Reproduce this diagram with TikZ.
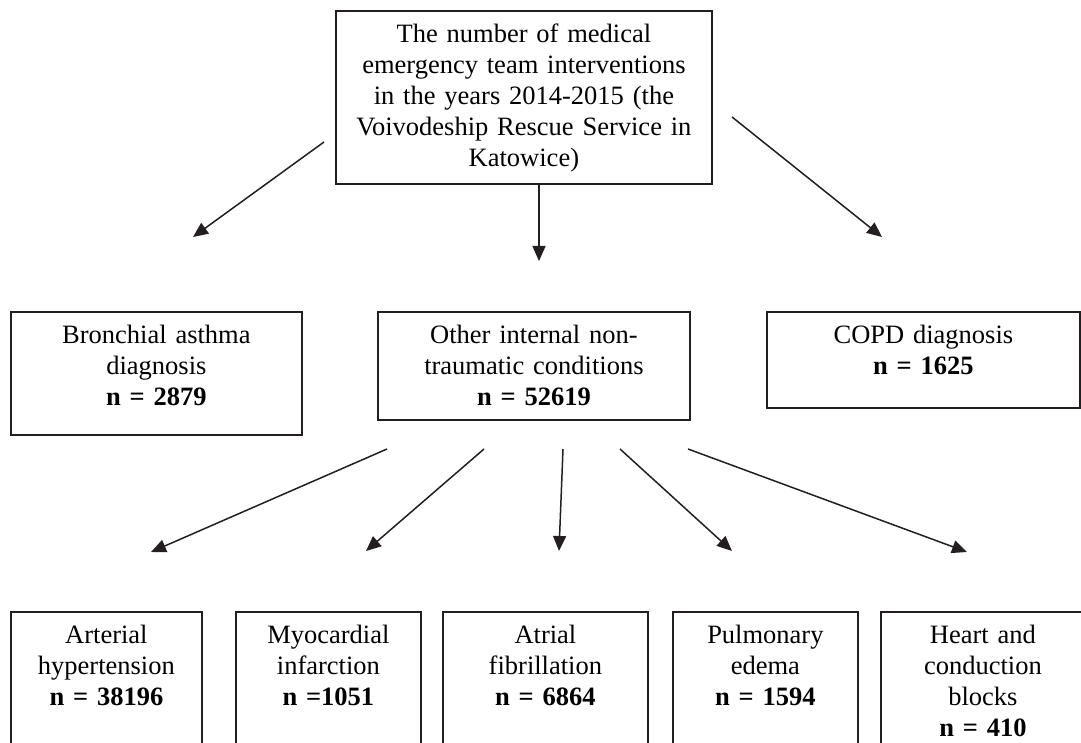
\documentclass[tikz,border=0pt]{standalone}
\usepackage{fontspec}
\setmainfont{Liberation Serif}
\usetikzlibrary{arrows.meta}
\definecolor{ink}{RGB}{35,31,32}
\tikzset{
  >={Triangle[length=15pt,width=13pt]},
  box/.style 2 args={draw=ink,line width=1.8pt,anchor=north west,align=center,
    inner sep=0pt,text width=#1,text height=32pt,text depth=#2,
    font=\fontsize{26.5}{31}\selectfont},
  flow/.style={->,line width=1.5pt,draw=ink,fill=ink},
}
\begin{document}
\begin{tikzpicture}[x=1pt,y=-1pt]
  \useasboundingbox (0,0) rectangle (1081,743);
  \node[box={376pt}{141pt}] (total) at (335,10) {The number of medical\\emergency team interventions\\in the years 2014-2015 (the\\Voivodeship Rescue Service in\\Katowice)};
  \node[box={291pt}{91pt}] (asthma) at (10,311) {Bronchial asthma\\diagnosis\\\textbf{n = 2879}};
  \node[box={312pt}{76pt}] (other) at (377,311) {Other internal non-\\traumatic conditions\\\textbf{n = 52619}};
  \node[box={313pt}{64pt}] (copd) at (766,311) {COPD diagnosis\\\textbf{n = 1625}};
  \node[box={191pt}{150pt}] (hyp) at (10,611) {Arterial\\hypertension\\\textbf{n = 38196}};
  \node[box={185pt}{150pt}] (mi) at (235,611) {Myocardial\\infarction\\\textbf{n =1051}};
  \node[box={205pt}{150pt}] (af) at (442,611) {Atrial\\fibrillation\\\textbf{n = 6864}};
  \node[box={185pt}{150pt}] (edema) at (672,611) {Pulmonary\\edema\\\textbf{n = 1594}};
  \node[box={204pt}{150pt}] (block) at (880,611) {Heart and\\conduction\\blocks\\\textbf{n = 410}};
  % arrow ends
  \coordinate (t1) at (324,142); \coordinate (t1e) at (193,237);
  \coordinate (t2) at (539,184); \coordinate (t2e) at (539,261);
  \coordinate (t3) at (732,117); \coordinate (t3e) at (882,237);
  \coordinate (o1) at (387,449); \coordinate (o1e) at (151,552);
  \coordinate (o2) at (484,449); \coordinate (o2e) at (366,551);
  \coordinate (o3) at (563,449); \coordinate (o3e) at (559,551);
  \coordinate (o4) at (620,449); \coordinate (o4e) at (732,551);
  \coordinate (o5) at (688,449); \coordinate (o5e) at (967,552);
  \draw[flow] (t1) -- (t1e);
  \draw[flow] (t2) -- (t2e);
  \draw[flow] (t3) -- (t3e);
  \draw[flow] (o1) -- (o1e);
  \draw[flow] (o2) -- (o2e);
  \draw[flow] (o3) -- (o3e);
  \draw[flow] (o4) -- (o4e);
  \draw[flow] (o5) -- (o5e);
\end{tikzpicture}
\end{document}
